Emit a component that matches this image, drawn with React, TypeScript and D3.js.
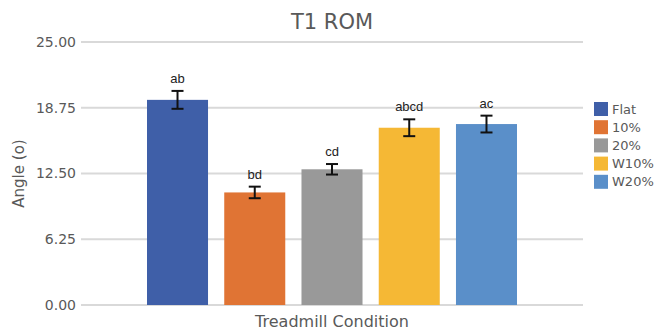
import React, { useEffect, useRef } from "react";
import * as d3 from "d3";

// chart data
const series = ["Flat", "10%", "20%", "W10%", "W20%"];
const means = [19.5, 10.7, 12.9, 16.85, 17.2];
const errors = [0.85, 0.55, 0.5, 0.8, 0.8];
const letters = ["ab", "bd", "cd", "abcd", "ac"];
const colors = ["#3f5fa8", "#e07434", "#999999", "#f5b835", "#5a8fc9"];
const yTicks = [0, 6.25, 12.5, 18.75, 25];

const W = 656;
const H = 333;

const App = () => {
  const svgRef = useRef<SVGSVGElement>(null);

  useEffect(() => {
    const svg = d3.select(svgRef.current);
    svg.selectAll("*").remove();

    const left = 81;
    const right = 583;
    const top = 42;
    const bottom = 305;
    const textColor = "#595959";
    const font = "DejaVu Sans";

    const y = d3.scaleLinear().domain([0, 25]).range([bottom, top]);
    const x = d3.scaleBand().domain(series).range([147, 517]).paddingInner(0.21).paddingOuter(0);

    // title
    svg.append("text")
      .attr("x", (left + right) / 2)
      .attr("y", 29)
      .attr("text-anchor", "middle")
      .style("font-family", font)
      .style("font-size", "21px")
      .style("fill", textColor)
      .text("T1 ROM");

    // gridlines + tick labels
    svg.append("g")
      .selectAll("line")
      .data(yTicks)
      .enter()
      .append("line")
      .attr("x1", left)
      .attr("x2", right)
      .attr("y1", d => y(d))
      .attr("y2", d => y(d))
      .attr("stroke", "#d9d9d9")
      .attr("stroke-width", 2);

    svg.append("g")
      .selectAll("text")
      .data(yTicks)
      .enter()
      .append("text")
      .attr("x", 76)
      .attr("y", d => y(d))
      .attr("dy", "0.35em")
      .attr("text-anchor", "end")
      .style("font-family", font)
      .style("font-size", "14px")
      .style("fill", textColor)
      .text(d => d3.format(".2f")(d));

    // bars
    svg.append("g")
      .selectAll("rect")
      .data(series)
      .enter()
      .append("rect")
      .attr("x", d => x(d)!)
      .attr("width", x.bandwidth())
      .attr("y", (d, i) => y(means[i]))
      .attr("height", (d, i) => y(0) - y(means[i]))
      .attr("fill", (d, i) => colors[i]);

    // error bars
    const eb = svg.append("g")
      .selectAll("g")
      .data(series)
      .enter()
      .append("g")
      .attr("stroke", "#111")
      .attr("stroke-width", 2);

    eb.append("line")
      .attr("x1", d => x(d)! + x.bandwidth() / 2)
      .attr("x2", d => x(d)! + x.bandwidth() / 2)
      .attr("y1", (d, i) => y(means[i] + errors[i]))
      .attr("y2", (d, i) => y(means[i] - errors[i]));
    [1, -1].forEach(s => {
      eb.append("line")
        .attr("x1", d => x(d)! + x.bandwidth() / 2 - 6)
        .attr("x2", d => x(d)! + x.bandwidth() / 2 + 6)
        .attr("y1", (d, i) => y(means[i] + s * errors[i]))
        .attr("y2", (d, i) => y(means[i] + s * errors[i]));
    });

    // significance letters
    svg.append("g")
      .selectAll("text")
      .data(series)
      .enter()
      .append("text")
      .attr("x", d => x(d)! + x.bandwidth() / 2)
      .attr("y", (d, i) => y(means[i] + errors[i]) - 8)
      .attr("text-anchor", "middle")
      .style("font-family", "Liberation Sans")
      .style("font-size", "13px")
      .style("fill", "#222")
      .text((d, i) => letters[i]);

    // axis titles
    svg.append("text")
      .attr("transform", `translate(24,${(top + bottom) / 2}) rotate(-90)`)
      .attr("text-anchor", "middle")
      .style("font-family", font)
      .style("font-size", "15px")
      .style("fill", textColor)
      .text("Angle (o)");

    svg.append("text")
      .attr("x", (left + right) / 2)
      .attr("y", 327)
      .attr("text-anchor", "middle")
      .style("font-family", font)
      .style("font-size", "16px")
      .style("fill", textColor)
      .text("Treadmill Condition");

    // legend
    const lg = svg.append("g")
      .selectAll("g")
      .data(series)
      .enter()
      .append("g")
      .attr("transform", (d, i) => `translate(594,${102 + i * 18.2})`);
    lg.append("rect")
      .attr("width", 14)
      .attr("height", 14)
      .attr("fill", (d, i) => colors[i]);
    lg.append("text")
      .attr("x", 18)
      .attr("y", 7)
      .attr("dy", "0.36em")
      .style("font-family", font)
      .style("font-size", "13px")
      .style("fill", textColor)
      .text(d => d);
  }, []);

  return (
    <svg
      ref={svgRef}
      width={W}
      height={H}
      style={{ position: "absolute", left: 0, top: 0, background: "#fff" }}
    />
  );
};

export default App;
